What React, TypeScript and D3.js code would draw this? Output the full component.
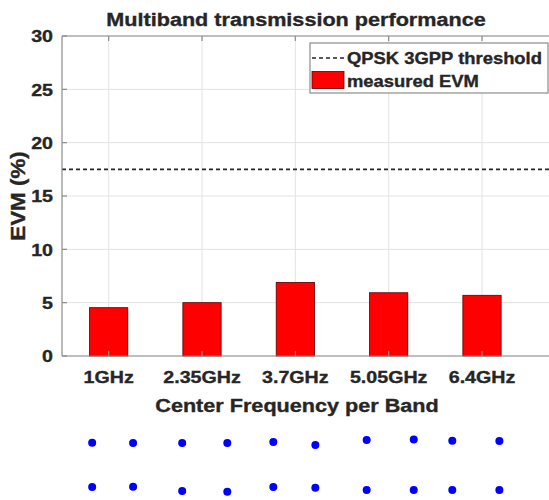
import React from 'react';
import * as d3 from 'd3';

const bands = ['1GHz', '2.35GHz', '3.7GHz', '5.05GHz', '6.4GHz'];
const evm = [4.53, 5.0, 6.9, 5.93, 5.69];
const threshold = 17.5;
const yTicks = [0, 5, 10, 15, 20, 25, 30];

// QPSK constellation insets under each band: in-phase and quadrature of the 4 symbols
const constI = [
  [-0.75, 1.11, -0.75, 1.11],
  [-0.9, 1.15, -0.9, 1.15],
  [-1.0, 0.91, -1.0, 0.91],
  [-1.0, 1.14, -1.0, 1.14],
  [-1.35, 0.79, -1.35, 0.79],
];
const constQ = [
  [0.99, 0.98, -0.93, -0.92],
  [0.98, 0.98, -1.11, -1.14],
  [1.02, 0.89, -0.93, -0.97],
  [1.11, 1.13, -1.07, -1.07],
  [1.08, 1.07, -1.07, -1.07],
];

const W = 549;
const H = 500;
const margin = { left: 62, top: 36, right: -3, bottom: 144 };
const font = '"Liberation Sans", Arial, sans-serif';
const ink = '#262626';
// the original font is a little wider than Arial for its height
const SX = 1.13;

type TxtProps = {
  x: number;
  y: number;
  size: number;
  anchor?: 'start' | 'middle' | 'end';
  rotate?: number;
  sx?: number;
  children: React.ReactNode;
};

function Txt({ x, y, size, anchor = 'start', rotate = 0, sx = SX, children }: TxtProps) {
  return (
    <text
      transform={`translate(${x},${y}) rotate(${rotate}) scale(${sx},1)`}
      textAnchor={anchor}
      fontSize={size}
      fill={ink}
      stroke={ink}
      strokeWidth={0.35}
    >
      {children}
    </text>
  );
}

export default function App() {
  const x = d3
    .scaleLinear()
    .domain([0.5, 5.75])
    .range([margin.left, W - margin.right]);
  const y = d3
    .scaleLinear()
    .domain([0, 30])
    .range([H - margin.bottom, margin.top]);
  const barW = x(1.41) - x(1);
  const insetX = d3.scaleLinear().domain([-1, 1]).range([-22, 22]);
  const insetY = d3.scaleLinear().domain([-1, 1]).range([488.5, 442.5]);
  const legend = { x: 310, y: 43, w: 238, h: 50 };

  return (
    <svg
      width={W}
      height={H}
      viewBox={`0 0 ${W} ${H}`}
      style={{ position: 'absolute', left: 0, top: 0, background: '#fff' }}
      fontFamily={font}
      fontWeight="bold"
    >
      {/* grid */}
      <g stroke="#e3e3e3" strokeWidth={1}>
        {yTicks.map(t => (
          <line key={'gy' + t} x1={x(0.5)} x2={x(5.75)} y1={y(t)} y2={y(t)} />
        ))}
        {bands.map((b, i) => (
          <line key={'gx' + b} x1={x(i + 1)} x2={x(i + 1)} y1={y(0)} y2={y(30)} />
        ))}
      </g>

      {/* threshold */}
      <line
        x1={x(0.5)}
        x2={x(5.75)}
        y1={y(threshold)}
        y2={y(threshold)}
        stroke={ink}
        strokeWidth={1.6}
        strokeDasharray="4,3"
      />

      {/* bars */}
      {evm.map((v, i) => (
        <rect
          key={bands[i]}
          x={x(i + 1) - barW / 2}
          y={y(v)}
          width={barW}
          height={y(0) - y(v)}
          fill="#ff0000"
          stroke="#5a0000"
          strokeWidth={0.8}
        />
      ))}

      {/* axes */}
      <g stroke="#8c8c8c" strokeWidth={1.2} fill="none">
        <line x1={x(0.5)} x2={x(5.75)} y1={y(0)} y2={y(0)} />
        <line x1={x(0.5)} x2={x(5.75)} y1={y(30)} y2={y(30)} />
        <line x1={x(0.5)} x2={x(0.5)} y1={y(0)} y2={y(30)} />
        {yTicks.map(t => (
          <line key={'ty' + t} x1={x(0.5)} x2={x(0.5) + 5} y1={y(t)} y2={y(t)} />
        ))}
        {bands.map((b, i) => (
          <g key={'tx' + b}>
            <line x1={x(i + 1)} x2={x(i + 1)} y1={y(0)} y2={y(0) - 5} />
            <line x1={x(i + 1)} x2={x(i + 1)} y1={y(30)} y2={y(30) + 5} />
          </g>
        ))}
      </g>

      {/* tick labels */}
      {yTicks.map(t => (
        <Txt key={'ly' + t} x={x(0.5) - 9} y={y(t) + 6.2} size={17.4} anchor="end">
          {t}
        </Txt>
      ))}
      {bands.map((b, i) => (
        <Txt key={'lx' + b} x={x(i + 1)} y={383} size={17.4} anchor="middle">
          {b}
        </Txt>
      ))}

      {/* titles */}
      <Txt x={296} y={25.7} size={18.8} anchor="middle" sx={1.15}>
        Multiband transmission performance
      </Txt>
      <Txt x={297} y={411.7} size={18.8} anchor="middle" sx={1.15}>
        Center Frequency per Band
      </Txt>
      <Txt x={25} y={(y(0) + y(30)) / 2} size={19.5} anchor="middle" rotate={-90} sx={1.15}>
        EVM (%)
      </Txt>

      {/* legend */}
      <g>
        <rect
          x={legend.x}
          y={legend.y}
          width={legend.w}
          height={legend.h}
          fill="#fff"
          stroke="#8c8c8c"
          strokeWidth={1.2}
        />
        <line
          x1={legend.x + 2}
          x2={legend.x + 34}
          y1={legend.y + 15}
          y2={legend.y + 15}
          stroke={ink}
          strokeWidth={1.6}
          strokeDasharray="4,3"
        />
        <Txt x={legend.x + 37} y={legend.y + 21.3} size={16.3}>
          QPSK 3GPP threshold
        </Txt>
        <rect
          x={legend.x + 2}
          y={legend.y + 28.5}
          width={32}
          height={17}
          fill="#ff0000"
          stroke="#5a0000"
          strokeWidth={0.8}
        />
        <Txt x={legend.x + 37} y={legend.y + 43.5} size={16.3}>
          measured EVM
        </Txt>
      </g>

      {/* constellations */}
      <g fill="#0000ff">
        {constI.map((row, b) =>
          row.map((iv, k) => (
            <circle
              key={b + '-' + k}
              cx={x(b + 1) + insetX(iv)}
              cy={insetY(constQ[b][k])}
              r={4}
            />
          ))
        )}
      </g>
    </svg>
  );
}
